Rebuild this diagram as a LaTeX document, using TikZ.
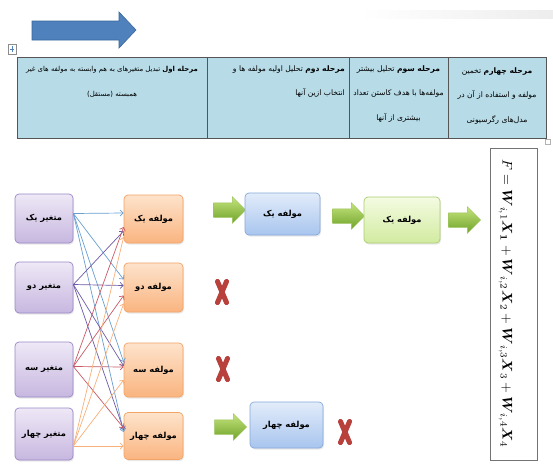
\documentclass[tikz,border=0pt]{standalone}
\usepackage{fontspec}
\usepackage{amsmath}
\usetikzlibrary{shapes.arrows,arrows.meta,shadows}
\newfontfamily\fa[Script=Arabic]{DejaVu Sans}
\TeXXeTstate=1
\definecolor{tblfill}{HTML}{B7DCE8}
\definecolor{tbldraw}{HTML}{555555}
\definecolor{varT}{HTML}{EEE8F6}
\definecolor{varB}{HTML}{C7B7E0}
\definecolor{varD}{HTML}{9A88C8}
\definecolor{compT}{HTML}{FDE3CB}
\definecolor{compB}{HTML}{FAB480}
\definecolor{compD}{HTML}{F3A366}
\definecolor{bluT}{HTML}{E2ECFA}
\definecolor{bluB}{HTML}{A8C5EE}
\definecolor{bluD}{HTML}{86A9DA}
\definecolor{grnT}{HTML}{F4FBE2}
\definecolor{grnB}{HTML}{D2EBA0}
\definecolor{grnD}{HTML}{AACF72}
\definecolor{garT}{HTML}{C4E47C}
\definecolor{garB}{HTML}{6FA22A}
\definecolor{garD}{HTML}{9CC45C}
\definecolor{crossred}{HTML}{B8413C}
\definecolor{bigarrow}{HTML}{4F81BD}
\definecolor{bigarrowD}{HTML}{3B679C}
\definecolor{lnA}{HTML}{6A9FD0}
\definecolor{lnB}{HTML}{6D5AA6}
\definecolor{lnC}{HTML}{C85A66}
\definecolor{lnD}{HTML}{F8B07A}
\tikzset{
  box/.style={rounded corners=4pt, line width=0.7pt, inner sep=1pt,
    font=\fa\bfseries\fontsize{8.3}{10}\selectfont,
    drop shadow={opacity=0.18, shadow xshift=1pt, shadow yshift=-1.5pt}},
  var/.style={box, draw=varD, top color=varT, bottom color=varB, minimum width=58pt},
  comp/.style={box, draw=compD, top color=compT, bottom color=compB, minimum width=59pt},
  blubox/.style={box, draw=bluD, top color=bluT, bottom color=bluB},
  grnbox/.style={box, draw=grnD, top color=grnT, bottom color=grnB},
  garrow/.style={single arrow, draw=garD, line width=0.5pt, top color=garT, bottom color=garB,
    minimum height=32pt, inner xsep=0pt, inner ysep=7pt, single arrow head extend=6pt,
    single arrow head indent=0pt},
  cell/.style={font=\fa\fontsize{7.6}{24.5}\selectfont, inner sep=0pt},
  lnAs/.style={draw=lnA, line width=0.7pt, -{Straight Barb[length=3pt,width=6pt]}},
  lnBs/.style={draw=lnB, line width=0.7pt, -{Straight Barb[length=3pt,width=6pt]}},
  lnCs/.style={draw=lnC, line width=0.7pt, -{Straight Barb[length=3pt,width=6pt]}},
  lnDs/.style={draw=lnD, line width=0.7pt, -{Straight Barb[length=3pt,width=6pt]}},
  redx/.pic={\draw[line width=5pt, draw=crossred, line cap=round] (-4.5,-10.5)--(4.5,10.5) (4.5,-10.5)--(-4.5,10.5);}
}
\begin{document}
\begin{tikzpicture}[x=1pt,y=-1pt]
\useasboundingbox (0,0) rectangle (553,463);
\fill[white] (0,0) rectangle (553,463);
% faint band top right
\shade[left color=white, right color=black!7] (360,10) rectangle (553,18);
% big blue arrow
\draw[fill=bigarrow, draw=bigarrowD, line width=0.6pt]
  (32,21) -- (119,21) -- (119,12) -- (136,30) -- (119,48) -- (119,40) -- (32,40) -- cycle;
% table handle icons
\draw[draw=black!45, fill=white, line width=0.4pt] (8,44) rectangle (16,54);
\draw[draw=bigarrow, line width=0.5pt] (12,46) -- (12,52) (10,49) -- (14,49);
\draw[draw=black!30, fill=white, line width=0.4pt] (545,139) rectangle (550,144);
% table
\fill[tblfill] (17,57) rectangle (546,138);
\draw[draw=tbldraw, line width=0.8pt] (17,57) rectangle (546,138);
\draw[draw=tbldraw, line width=0.8pt] (207,57) -- (207,138) (349,57) -- (349,138) (448,57) -- (448,138);
\node[cell, font=\fa\fontsize{6.9}{25}\selectfont, anchor=north, align=center] (t1) at (112,66)
  {\beginR{\bfseries مرحله اول} تبدیل متغیرهای به هم وابسته به مولفه های غیر\endR\\\beginR همبسته (مستقل)\endR};
\node[cell, anchor=north east, align=right] (t2) at (345,65.5)
  {\beginR{\bfseries مرحله دوم} تحلیل اولیه مولفه ها و\endR\\\beginR انتخاب ازین آنها\endR};
\node[cell, anchor=north, align=center] (t3) at (398.5,65.5)
  {\beginR{\bfseries مرحله سوم} تحلیل بیشتر\endR\\\beginR مولفه‌ها با هدف کاستن تعداد\endR\\\beginR بیشتری از آنها\endR};
\node[cell, anchor=north, align=center] (t4) at (497,67.5)
  {\beginR{\bfseries مرحله چهارم} تخمین\endR\\\beginR مولفه و استفاده از آن در\endR\\\beginR مدل‌های رگرسیونی\endR};
% variable nodes
\node[var, minimum height=49pt] (v1) at (44,218.5) {\beginR متغیر یک\endR};
\node[var, minimum height=51pt] (v2) at (44,287.5) {\beginR متغیر دو\endR};
\node[var, minimum height=55pt] (v3) at (44,369.5) {\beginR متغیر سه\endR};
\node[var, minimum height=52pt] (v4) at (44,434) {\beginR متغیر چهار\endR};
% component nodes
\node[comp, minimum height=48pt] (o1) at (153.5,219) {\beginR مولفه یک\endR};
\node[comp, minimum height=49pt] (o2) at (153.5,287.5) {\beginR مولفه دو\endR};
\node[comp, minimum height=54pt] (o3) at (153.5,370) {\beginR مولفه سه\endR};
\node[comp, minimum height=47pt] (o4) at (153.5,436) {\beginR مولفه چهار\endR};
% connectors
\foreach \t/\e in {o1/6, o2/8, o3/8, o4/4}
  \draw[lnAs] ([yshift=5pt]v1.east) -- ([yshift=\e pt]\t.west);
\foreach \t/\e in {o1/-12, o2/2, o3/4, o4/6}
  \draw[lnBs] ([yshift=3pt]v2.east) -- ([yshift=\e pt]\t.west);
\foreach \t/\e in {o1/-8, o2/-8, o3/3, o4/8}
  \draw[lnCs] ([yshift=3pt]v3.east) -- ([yshift=\e pt]\t.west);
\foreach \t/\e in {o1/-18, o2/-16, o3/-10, o4/-10}
  \draw[lnDs] ([yshift=-12pt]v4.east) -- ([yshift=\e pt]\t.west);
% later stages
\node[garrow] (ga1) at (226,210) {};
\node[blubox, minimum width=75pt, minimum height=42pt] (b1) at (282.5,214) {\beginR مولفه یک\endR};
\node[garrow] (ga2) at (345,216) {};
\node[grnbox, minimum width=76pt, minimum height=46pt] (g1) at (402,220) {\beginR مولفه یک\endR};
\node[garrow] (ga3) at (461,220) {};
\node[garrow] (ga4) at (227,427) {};
\node[blubox, minimum width=73pt, minimum height=46pt] (b4) at (286.5,425) {\beginR مولفه چهار\endR};
\pic at (222,292) {redx};
\pic at (223,369) {redx};
\pic at (345,432) {redx};
% formula box
\node[draw=black!55, line width=0.9pt, minimum width=47pt, minimum height=312pt, inner sep=0pt] (fbox) at (513.5,304) {};
\node[rotate=-90, inner sep=0pt] (f) at (fbox.center) [yshift=-8pt]
  {\resizebox{288pt}{!}{$F = \boldsymbol{W}_{i,1}\boldsymbol{X}_{\boldsymbol{1}} + \boldsymbol{W}_{i,2}\boldsymbol{X}_2 + \boldsymbol{W}_{i,3}\boldsymbol{X}_3 + \boldsymbol{W}_{i,4}\boldsymbol{X}_4$}};
\end{tikzpicture}
\end{document}
